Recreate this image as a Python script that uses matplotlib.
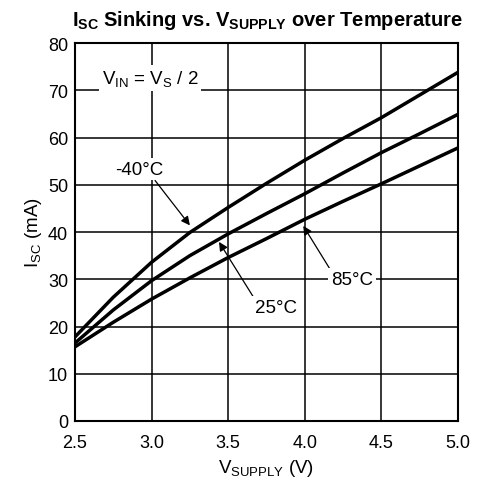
import matplotlib
matplotlib.use("Agg")
import matplotlib.pyplot as plt

plt.rcParams['font.family'] = ['Liberation Sans', 'DejaVu Sans']
plt.rcParams['mathtext.fontset'] = 'custom'
plt.rcParams['mathtext.rm'] = 'Liberation Sans'
plt.rcParams['mathtext.bf'] = 'Liberation Sans:bold'

v_supply = [2.5, 2.75, 3.0, 3.25, 3.5, 3.75, 4.0, 4.25, 4.5, 4.75, 5.0]
isc_m40 = [17.8, 26.2, 33.6, 39.9, 45.2, 50.3, 55.2, 59.8, 64.2, 69.0, 73.8]
isc_25 = [16.5, 23.5, 29.7, 35.0, 39.6, 43.9, 48.1, 52.5, 56.8, 60.8, 64.9]
isc_85 = [15.7, 20.9, 25.8, 30.3, 34.6, 38.6, 42.7, 46.5, 50.2, 54.0, 57.8]
x_ticks = [2.5, 3.0, 3.5, 4.0, 4.5, 5.0]
y_ticks = [0, 10, 20, 30, 40, 50, 60, 70, 80]

fig = plt.figure(figsize=(4.84, 4.89), dpi=100)
ax = fig.add_axes([75/484, 1-422/489, (458-75)/484, (422-44)/489])

for ys in (isc_m40, isc_25, isc_85):
    ax.plot(v_supply, ys, color='black', lw=2.5, solid_joinstyle='round', zorder=3)

ax.set_xlim(2.5, 5.0)
ax.set_ylim(0, 80)
ax.set_xticks(x_ticks)
ax.set_xticklabels([f"{t:.1f}" for t in x_ticks])
ax.set_yticks(y_ticks)
ax.tick_params(length=0, labelsize=13, colors='black')
ax.tick_params(axis='x', pad=9)
ax.tick_params(axis='y', pad=5)
ax.grid(True, color='black', lw=1.1, zorder=1)
for s in ax.spines.values():
    s.set_linewidth(1.5)
    s.set_zorder(4)

ax.set_xlabel(r'$\mathregular{V_{SUPPLY}}$ (V)', fontsize=13.5, labelpad=5)
ax.set_ylabel(r'$\mathregular{I_{SC}}$ (mA)', fontsize=13.5, labelpad=3)

fig.text(267/484, 1-20/489, r'$\mathbf{I_{SC}}$ Sinking vs. $\mathbf{V_{SUPPLY}}$ over Temperature',
         ha='center', va='center', fontsize=14.5, fontweight='bold')

bb = dict(boxstyle='square,pad=0.15', fc='white', ec='none')
ax.text(2.99, 72.6, r'$\mathregular{V_{IN}}$ = $\mathregular{V_S}$ / 2', ha='center', va='center',
        fontsize=13.5, bbox=bb, zorder=5)

ap = dict(arrowstyle='-|>', color='black', lw=0.9, mutation_scale=13, shrinkA=0, shrinkB=0)
ax.annotate('-40°C', xy=(3.25, 41.4), xytext=(2.92, 53.3), ha='center', va='center',
            fontsize=13.5, bbox=bb, zorder=5,
            arrowprops=dict(ap, relpos=(0.78, 0.0)))
ax.annotate('25°C', xy=(3.44, 37.9), xytext=(3.81, 24.0), ha='center', va='center',
            fontsize=13.5, bbox=bb, zorder=5,
            arrowprops=dict(ap, relpos=(0.0, 1.0)))
ax.annotate('85°C', xy=(3.99, 41.3), xytext=(4.31, 29.9), ha='center', va='center',
            fontsize=13.5, bbox=bb, zorder=5,
            arrowprops=dict(ap, relpos=(0.0, 1.0)))

fig.savefig('out.png', dpi=100)
